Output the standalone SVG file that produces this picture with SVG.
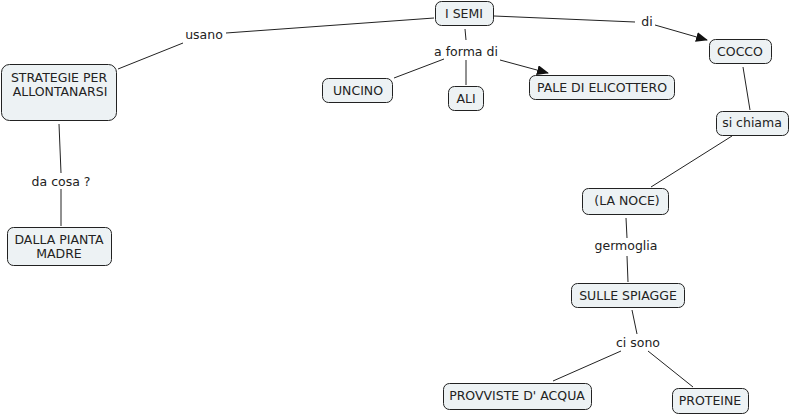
<svg xmlns="http://www.w3.org/2000/svg" width="791" height="415" viewBox="0 0 791 415">
<style>
.n rect{fill:#edf2f4;stroke:#222;stroke-width:1}
text{font-family:"DejaVu Sans",Verdana,sans-serif;font-size:12.5px;fill:#222;text-anchor:middle}
.c line{stroke:#222;stroke-width:1}
</style>
<defs>
<marker id="ah" markerWidth="12" markerHeight="10" refX="11" refY="5" orient="auto" markerUnits="userSpaceOnUse">
<path d="M0,0 L12,5 L0,10 z" fill="#111"/>
</marker>
</defs>
<rect width="791" height="415" fill="#fff"/>
<g class="c">
<line x1="118" y1="69" x2="183" y2="43"/>
<line x1="226" y1="33" x2="434" y2="18"/>
<line x1="465" y1="29" x2="466" y2="40"/>
<line x1="444" y1="59" x2="394" y2="78"/>
<line x1="466" y1="60" x2="466" y2="85"/>
<line x1="500" y1="60" x2="548" y2="73" marker-end="url(#ah)"/>
<line x1="494" y1="16" x2="635" y2="22"/>
<line x1="655" y1="25" x2="707" y2="40" marker-end="url(#ah)"/>
<line x1="743" y1="67" x2="750" y2="110"/>
<line x1="732" y1="136" x2="651" y2="187"/>
<line x1="626" y1="218" x2="627" y2="238"/>
<line x1="627" y1="256" x2="628" y2="282"/>
<line x1="632" y1="310" x2="637" y2="334"/>
<line x1="621" y1="351" x2="553" y2="381"/>
<line x1="648" y1="351" x2="693" y2="387"/>
<line x1="59" y1="124" x2="61" y2="173"/>
<line x1="61" y1="189" x2="61" y2="226"/>
</g>
<g id="lbl-usano"><text x="204" y="39">usano</text></g>
<g id="lbl-aformadi"><text x="466" y="56">a forma di</text></g>
<g id="lbl-di"><text x="647" y="26">di</text></g>
<g id="lbl-dacosa"><text x="61" y="186">da cosa ?</text></g>
<g id="lbl-germoglia"><text x="626" y="250">germoglia</text></g>
<g id="lbl-cisono"><text x="638" y="347">ci sono</text></g>
<g id="n-isemi" class="n"><rect x="435.5" y="1.5" width="58" height="24" rx="6"/><text x="464" y="18">I SEMI</text></g>
<g id="n-strategie" class="n"><rect x="1.5" y="64.5" width="115" height="56" rx="8"/><text x="59" y="82">STRATEGIE PER</text><text x="60" y="96">ALLONTANARSI</text></g>
<g id="n-uncino" class="n"><rect x="322.5" y="78.5" width="70" height="24" rx="6"/><text x="358" y="95">UNCINO</text></g>
<g id="n-ali" class="n"><rect x="448.5" y="86.5" width="35" height="24" rx="6"/><text x="466" y="103">ALI</text></g>
<g id="n-pale" class="n"><rect x="529.5" y="75.5" width="145" height="24" rx="6"/><text x="602" y="92">PALE DI ELICOTTERO</text></g>
<g id="n-cocco" class="n"><rect x="709.5" y="39.5" width="62" height="24" rx="6"/><text x="740" y="56">COCCO</text></g>
<g id="n-sichiama" class="n"><rect x="716.5" y="111.5" width="72" height="24" rx="6"/><text x="752" y="127">si chiama</text></g>
<g id="n-noce" class="n"><rect x="582.5" y="188.5" width="86" height="26" rx="6"/><text x="627" y="205">(LA NOCE)</text></g>
<g id="n-spiagge" class="n"><rect x="571.5" y="283.5" width="113" height="24" rx="6"/><text x="628" y="300">SULLE SPIAGGE</text></g>
<g id="n-provviste" class="n"><rect x="443.5" y="383.5" width="148" height="26" rx="6"/><text x="517" y="400">PROVVISTE D' ACQUA</text></g>
<g id="n-proteine" class="n"><rect x="672.5" y="388.5" width="76" height="25" rx="6"/><text x="710" y="405">PROTEINE</text></g>
<g id="n-dalla" class="n"><rect x="7.5" y="227.5" width="104" height="38" rx="6"/><text x="59" y="244">DALLA PIANTA</text><text x="59" y="258">MADRE</text></g>
</svg>
